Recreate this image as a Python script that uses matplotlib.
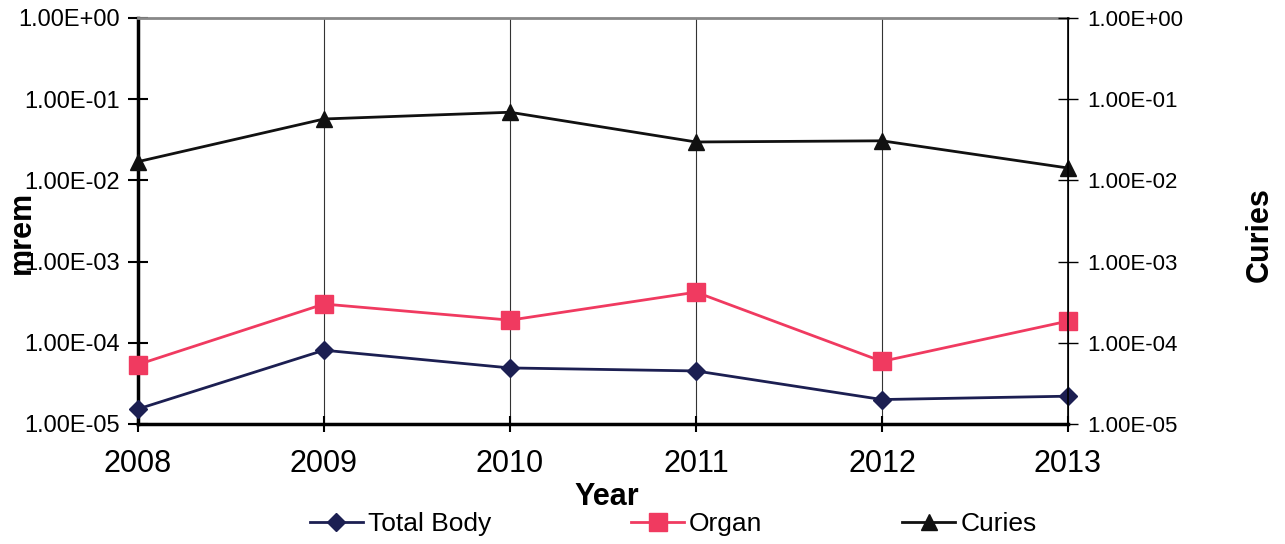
import matplotlib
matplotlib.use("Agg")
import matplotlib.pyplot as plt
from matplotlib.ticker import FuncFormatter, LogLocator, NullLocator

plt.rcParams["font.family"] = ["Liberation Sans", "DejaVu Sans"]

# Данные
years = [2008, 2009, 2010, 2011, 2012, 2013]
total_body = [1.53e-5, 8.1e-5, 4.9e-5, 4.5e-5, 2.0e-5, 2.2e-5]
organ = [5.4e-5, 3.0e-4, 1.9e-4, 4.2e-4, 5.9e-5, 1.85e-4]
curies = [1.7e-2, 5.7e-2, 6.9e-2, 2.97e-2, 3.07e-2, 1.42e-2]

fig = plt.figure(figsize=(12.85, 5.44), dpi=100)
ax = fig.add_axes([0.1074, 0.2206, 0.7237, 0.7464])
ax2 = ax.twinx()

sci = FuncFormatter(lambda v, _: f"{v:.2E}")

for a in (ax, ax2):
    a.set_yscale("log")
    a.set_ylim(1e-5, 1.0)
    a.yaxis.set_major_locator(LogLocator(base=10, numticks=10))
    a.yaxis.set_minor_locator(NullLocator())
    a.yaxis.set_major_formatter(sci)

ax.set_xlim(years[0], years[-1])
ax.set_xticks(years)
ax.set_xticklabels([str(y) for y in years], fontsize=22)
ax.tick_params(axis="x", direction="inout", length=12, width=1.5, pad=12)
ax.tick_params(axis="y", direction="inout", length=14, width=1.5, labelsize=17, pad=6)
ax2.tick_params(axis="y", direction="inout", length=14, width=1, labelsize=16, pad=7)

ax.grid(axis="x", color="#333333", linewidth=0.8)
ax.set_axisbelow(True)

ax.plot(years, total_body, color="#1c1f52", marker="D", markersize=9, linewidth=2,
        label="Total Body", clip_on=False, zorder=4)
ax.plot(years, organ, color="#f03a60", marker="s", markersize=13, linewidth=2,
        label="Organ", clip_on=False, zorder=4)
ax.plot(years, curies, color="#111111", marker="^", markersize=12, linewidth=2,
        label="Curies", clip_on=False, zorder=4)

ax.spines["left"].set_linewidth(2.5)
ax.spines["bottom"].set_linewidth(2.5)
ax.spines["top"].set_color("#888888")
ax.spines["top"].set_linewidth(2)
ax2.spines["right"].set_linewidth(1.2)
ax2.spines["top"].set_visible(False)
ax2.spines["left"].set_visible(False)
ax2.spines["bottom"].set_visible(False)

fig.text(0.017, 0.572, "mrem", rotation=90, fontsize=22, fontweight="bold",
         ha="center", va="center")
fig.text(0.98, 0.568, "Curies", rotation=90, fontsize=22, fontweight="bold",
         ha="center", va="center")
fig.text(0.472, 0.086, "Year", fontsize=22, fontweight="bold",
         ha="center", va="center")

fig.legend(loc="center", bbox_to_anchor=(0.524, 0.037), ncol=3, frameon=False,
           fontsize=19, handlelength=2.0, handletextpad=0.2, columnspacing=5.3)

fig.savefig("out.png", dpi=100)
